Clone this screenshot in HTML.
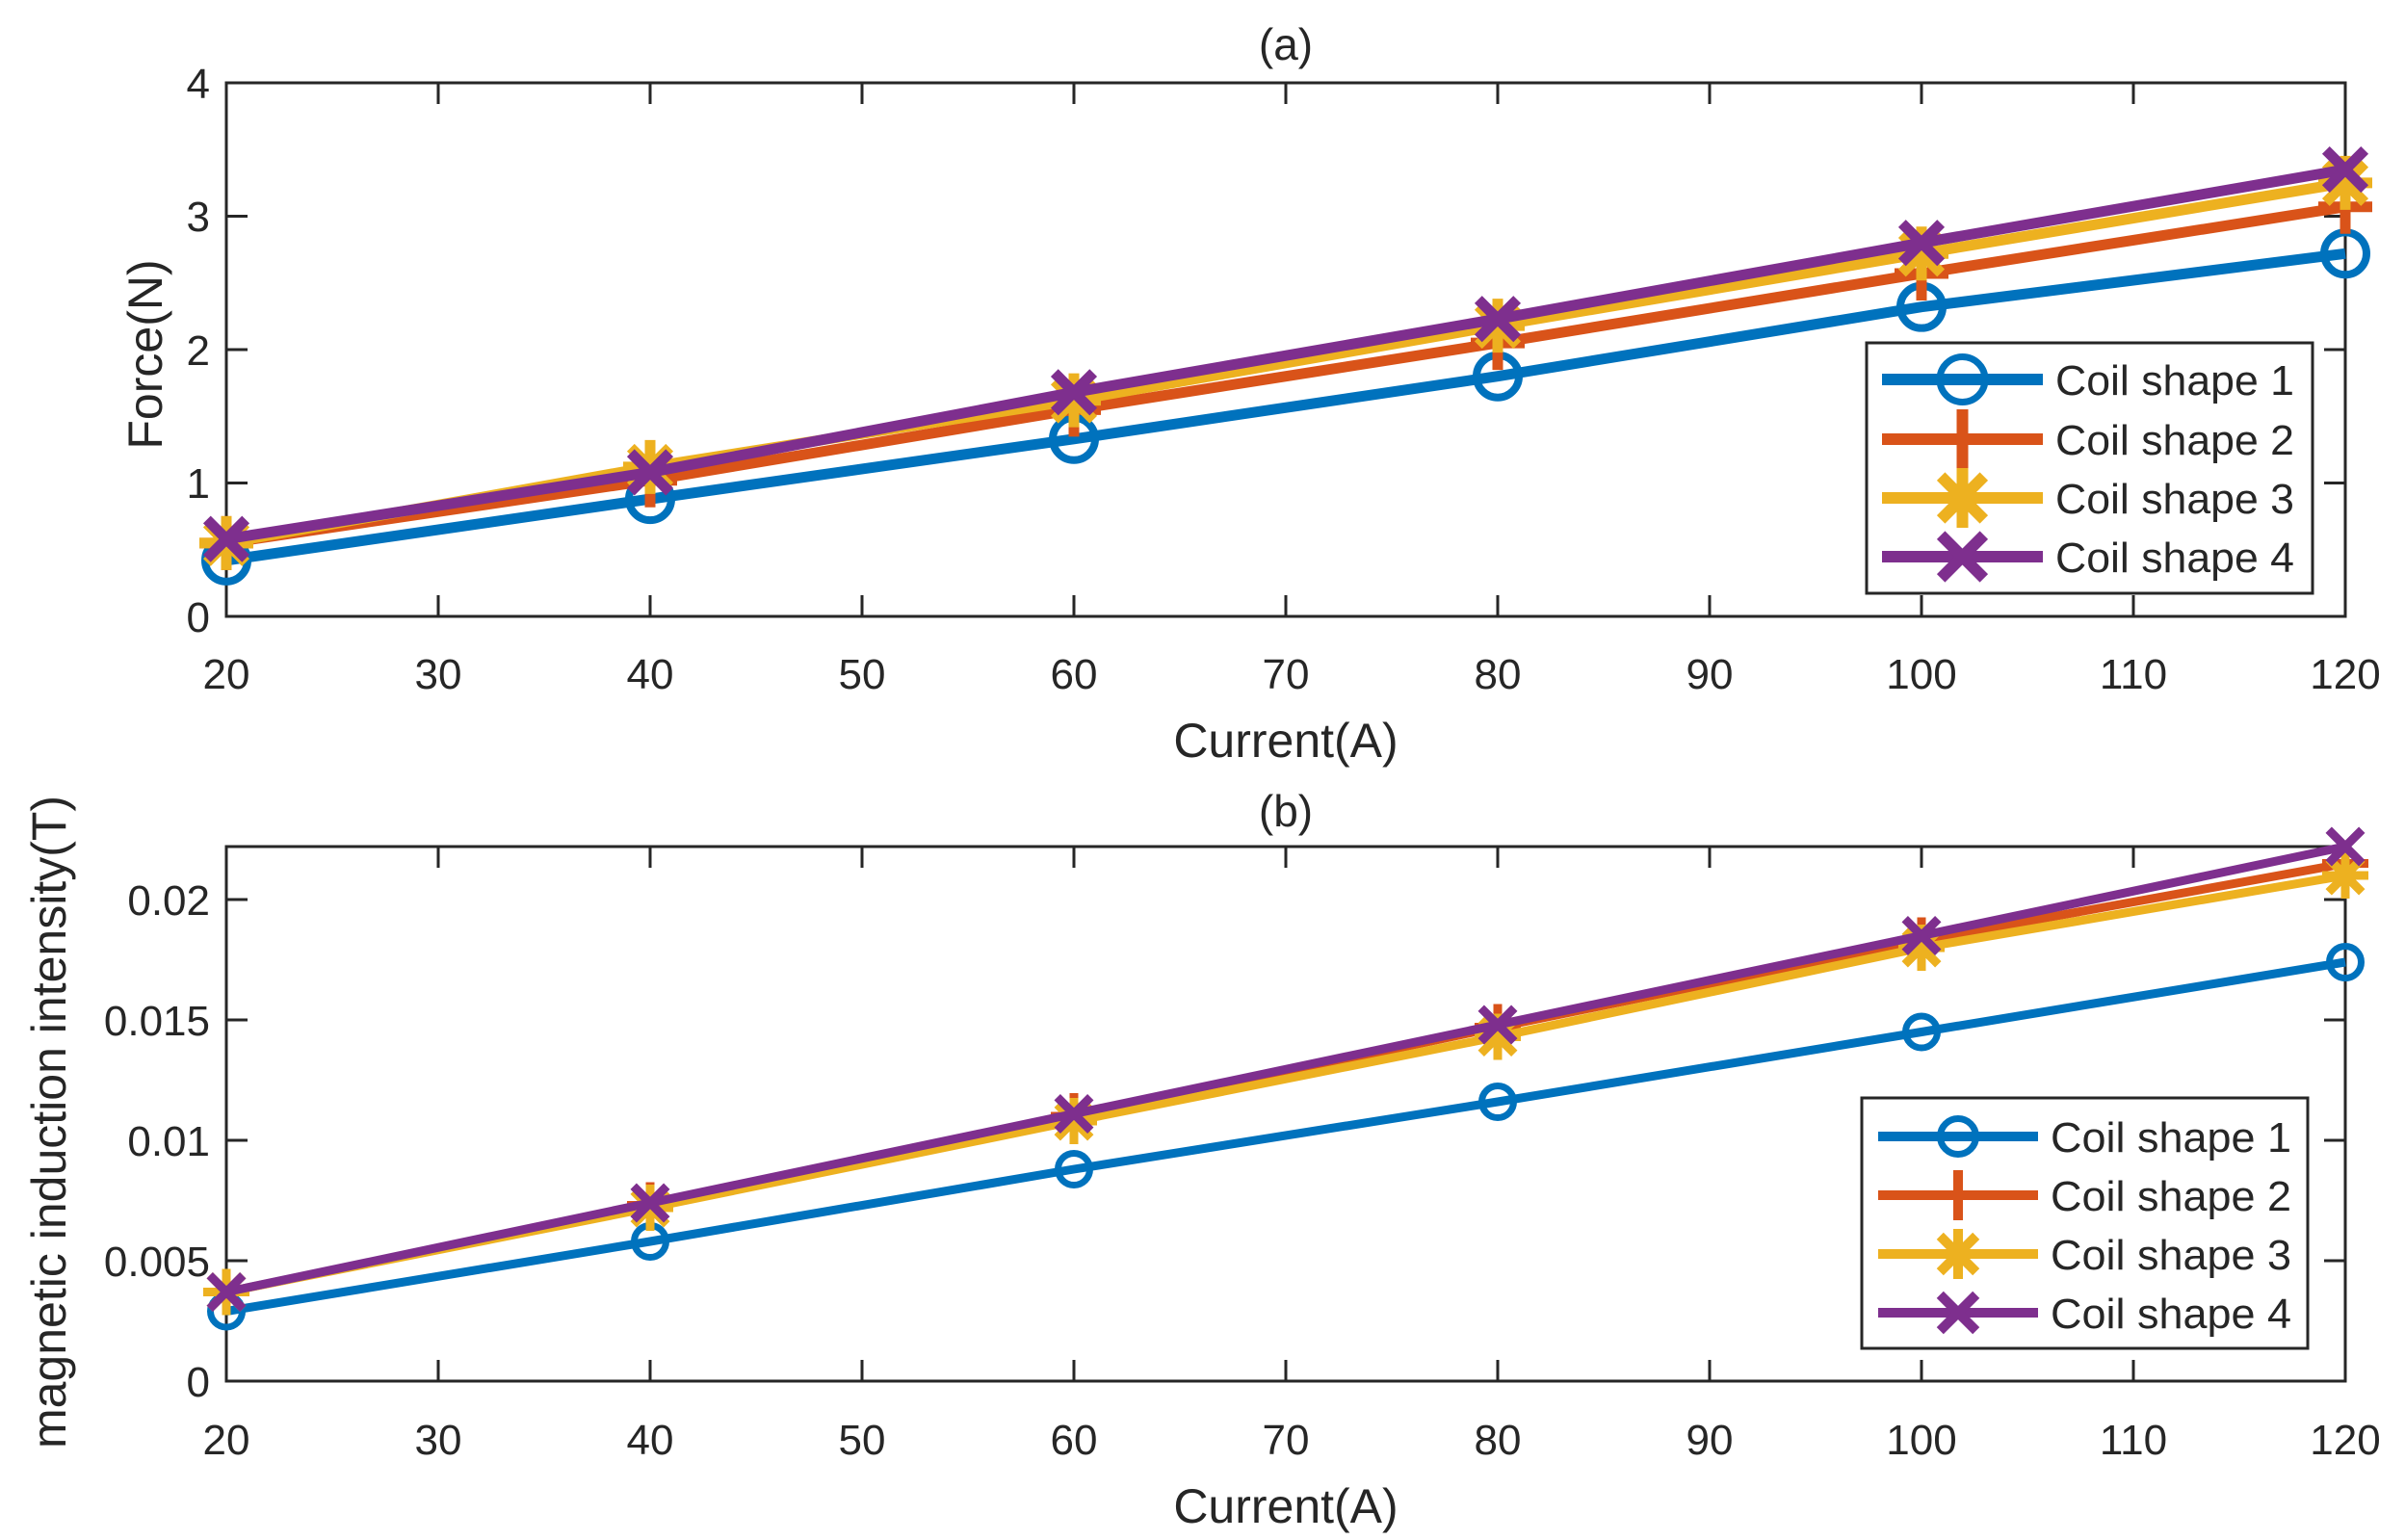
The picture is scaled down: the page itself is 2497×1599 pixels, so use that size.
<!DOCTYPE html>
<html><head><meta charset="utf-8"><style>
html,body{margin:0;padding:0;background:#fff}
svg{display:block}
text{font-family:"Liberation Sans",sans-serif;fill:#262626}
</style></head><body>
<svg id="s" width="2497" height="1599" viewBox="0 0 2497 1599" xmlns="http://www.w3.org/2000/svg">
<rect width="2497" height="1599" fill="#fff"/>
<g id="plots"></g>
<g font-size="44" text-anchor="middle">
<text x="235" y="715">20</text><text x="455" y="715">30</text><text x="675" y="715">40</text><text x="895" y="715">50</text><text x="1115" y="715">60</text><text x="1335" y="715">70</text><text x="1555" y="715">80</text><text x="1775" y="715">90</text><text x="1995" y="715">100</text><text x="2215" y="715">110</text><text x="2435" y="715">120</text>
<text x="235" y="1510">20</text><text x="455" y="1510">30</text><text x="675" y="1510">40</text><text x="895" y="1510">50</text><text x="1115" y="1510">60</text><text x="1335" y="1510">70</text><text x="1555" y="1510">80</text><text x="1775" y="1510">90</text><text x="1995" y="1510">100</text><text x="2215" y="1510">110</text><text x="2435" y="1510">120</text>
</g>
<g font-size="44" text-anchor="end">
<text x="218" y="656">0</text><text x="218" y="517">1</text><text x="218" y="379">2</text><text x="218" y="240">3</text><text x="218" y="102">4</text>
<text x="218" y="1450">0</text><text x="218" y="1325">0.005</text><text x="218" y="1200">0.01</text><text x="218" y="1075">0.015</text><text x="218" y="950">0.02</text>
</g>
<g font-size="50" text-anchor="middle">
<text x="1335" y="62" font-size="46">(a)</text>
<text x="1335" y="858" font-size="46">(b)</text>
<text x="1335" y="786">Current(A)</text>
<text x="1335" y="1581">Current(A)</text>
<text transform="translate(168,368) rotate(-90)">Force(N)</text>
<text transform="translate(68,1165) rotate(-90)">magnetic induction intensity(T)</text>
</g>
<g id="leg"></g>
<g font-size="44" fill="#000">
<text x="2134" y="410" textLength="248" lengthAdjust="spacingAndGlyphs">Coil shape 1</text>
<text x="2134" y="472" textLength="248" lengthAdjust="spacingAndGlyphs">Coil shape 2</text>
<text x="2134" y="533" textLength="248" lengthAdjust="spacingAndGlyphs">Coil shape 3</text>
<text x="2134" y="594" textLength="248" lengthAdjust="spacingAndGlyphs">Coil shape 4</text>
<text x="2129" y="1196" textLength="250" lengthAdjust="spacingAndGlyphs">Coil shape 1</text>
<text x="2129" y="1257" textLength="250" lengthAdjust="spacingAndGlyphs">Coil shape 2</text>
<text x="2129" y="1318" textLength="250" lengthAdjust="spacingAndGlyphs">Coil shape 3</text>
<text x="2129" y="1379" textLength="250" lengthAdjust="spacingAndGlyphs">Coil shape 4</text>
</g>
</svg>
<script>
(function(){
var NS="http://www.w3.org/2000/svg",G=document.getElementById('plots'),LG=document.getElementById('leg');
var target=G;
function el(t,a){var e=document.createElementNS(NS,t);for(var k in a)e.setAttribute(k,a[k]);target.appendChild(e);return e;}
var C=["#0072BD","#D95319","#EDB120","#7E2F8E"];
function marker(i,x,y,r,w){var c=C[i],d=r*0.72;
 if(i==0)el('circle',{cx:x,cy:y,r:r-w/2,fill:'none',stroke:c,'stroke-width':w});
 else if(i==1)el('path',{d:'M'+(x-r)+' '+y+'H'+(x+r)+'M'+x+' '+(y-r)+'V'+(y+r),stroke:c,'stroke-width':w,fill:'none'});
 else if(i==2)el('path',{d:'M'+(x-r)+' '+y+'H'+(x+r)+'M'+x+' '+(y-r)+'V'+(y+r)+'M'+(x-d)+' '+(y-d)+'L'+(x+d)+' '+(y+d)+'M'+(x-d)+' '+(y+d)+'L'+(x+d)+' '+(y-d),stroke:c,'stroke-width':w,fill:'none'});
 else el('path',{d:'M'+(x-d)+' '+(y-d)+'L'+(x+d)+' '+(y+d)+'M'+(x-d)+' '+(y+d)+'L'+(x+d)+' '+(y-d),stroke:c,'stroke-width':w,fill:'none'});
}
function axes(L,T,R,B,xt,yt){
 el('rect',{x:L,y:T,width:R-L,height:B-T,fill:'none',stroke:'#262626','stroke-width':3});
 var d='';xt.forEach(function(x){d+='M'+x+' '+B+'V'+(B-22)+'M'+x+' '+T+'V'+(T+22);});
 yt.forEach(function(y){d+='M'+L+' '+y+'H'+(L+22)+'M'+R+' '+y+'H'+(R-22);});
 el('path',{d:d,stroke:'#262626','stroke-width':3,fill:'none'});
}
var xs=[20,40,60,80,100,120];function X(v){return 235+(v-20)*22;}
var xt=[];for(var v=20;v<=120;v+=10)xt.push(X(v));
var topD=[[0.42,0.88,1.33,1.8,2.32,2.72],[0.55,1.02,1.55,2.05,2.57,3.07],[0.55,1.12,1.62,2.18,2.72,3.25],[0.58,1.08,1.68,2.23,2.8,3.35]];
function Y1(v){return 640-v*138.5;}
axes(235,86,2435,640,xt,[0,1,2,3,4].map(Y1));
topD.forEach(function(s,i){el('polyline',{points:s.map(function(v,j){return X(xs[j])+','+Y1(v);}).join(' '),fill:'none',stroke:C[i],'stroke-width':11,'stroke-linejoin':'round'});
 s.forEach(function(v,j){marker(i,X(xs[j]),Y1(v),i==0?26:28,i==0?8:11);});});
var bot=[[0.0029,0.0058,0.0088,0.0116,0.0145,0.0174],[0.0037,0.0073,0.011,0.0147,0.0183,0.0215],[0.0037,0.0072,0.0108,0.0143,0.018,0.021],[0.0037,0.0074,0.0111,0.0148,0.0185,0.0222]];
function Y2(v){return 1434-v*25000;}
axes(235,879,2435,1434,xt,[0,0.005,0.01,0.015,0.02].map(Y2));
bot.forEach(function(s,i){el('polyline',{points:s.map(function(v,j){return X(xs[j])+','+Y2(v);}).join(' '),fill:'none',stroke:C[i],'stroke-width':9,'stroke-linejoin':'round'});
 s.forEach(function(v,j){marker(i,X(xs[j]),Y2(v),i==0?20:24,i==0?7:9);});});
target=LG;
function legend(L,T,R,B,rows,x1,x2,lw,mr,mw){
 el('rect',{x:L,y:T,width:R-L,height:B-T,fill:'#fff',stroke:'#262626','stroke-width':3});
 rows.forEach(function(y,i){el('line',{x1:x1,y1:y,x2:x2,y2:y,stroke:C[i],'stroke-width':lw});marker(i,(x1+x2)/2,y,i==0?mr:mr+4,i==0?mw:lw);});
}
legend(1938,356,2401,616,[394,456,517,578],1954,2121,12,27,7);
legend(1933,1140,2396,1400,[1180,1241,1302,1363],1950,2116,10,22,7);
})();
</script>
</body></html>
